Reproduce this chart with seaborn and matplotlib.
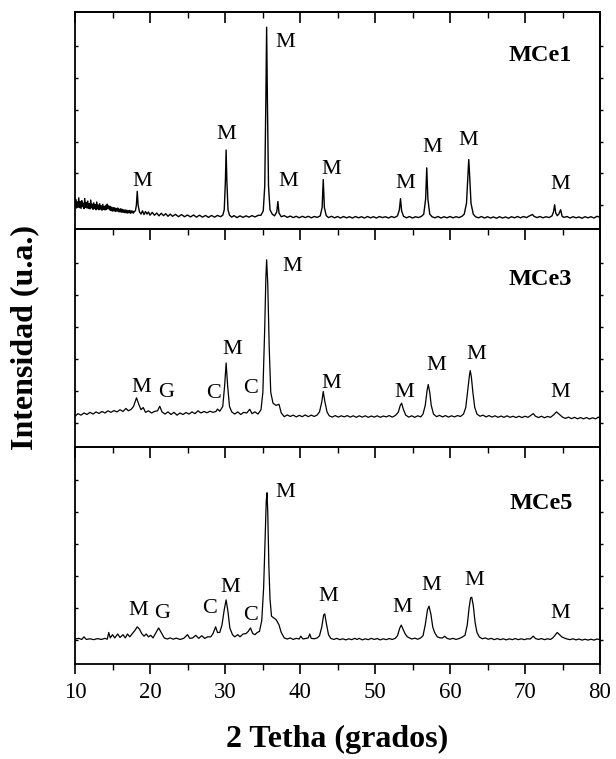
import matplotlib
matplotlib.use("Agg")
import matplotlib.pyplot as plt
from matplotlib.ticker import MultipleLocator, NullFormatter
import seaborn as sns

sns.set_theme(style="white")
plt.rcParams["font.family"] = ["Liberation Serif", "DejaVu Serif"]
plt.rcParams["text.color"] = "black"
plt.rcParams["axes.labelcolor"] = "black"
plt.rcParams["xtick.color"] = "black"
plt.rcParams["ytick.color"] = "black"

# ---------------------------------------------------------------- data
# Diffractograms as (2-theta in degrees, relative intensity in % of panel height)
mce1 = [
    (10.0, 11.5), (10.1, 13.8), (10.2, 9.8), (10.3, 12.6), (10.4, 10.2), (10.5, 14.5),
    (10.6, 10.0), (10.7, 12.8), (10.8, 9.6), (10.9, 13.2), (11.0, 10.4), (11.1, 12.0),
    (11.2, 9.5), (11.3, 14.2), (11.4, 10.1), (11.5, 12.4), (11.6, 9.8), (11.7, 13.0),
    (11.8, 9.6), (11.9, 11.8), (12.0, 9.4), (12.1, 13.5), (12.2, 9.9), (12.3, 11.6),
    (12.4, 9.2), (12.5, 12.2), (12.6, 9.6), (12.7, 11.4), (12.8, 9.0), (12.9, 12.6),
    (13.0, 9.4), (13.1, 11.2), (13.2, 9.0), (13.3, 11.8), (13.4, 9.3), (13.5, 10.8),
    (13.6, 8.8), (13.7, 11.5), (13.8, 9.2), (13.9, 10.6), (14.0, 8.9), (14.1, 11.0),
    (14.2, 9.1), (14.3, 11.6), (14.4, 9.6), (14.5, 10.8), (14.6, 9.0), (14.7, 10.5),
    (14.8, 8.6), (14.9, 10.2), (15.0, 8.4), (15.1, 10.0), (15.2, 8.5), (15.3, 9.9),
    (15.4, 8.2), (15.5, 9.6), (15.6, 8.4), (15.7, 9.8), (15.8, 8.1), (15.9, 9.3),
    (16.0, 8.0), (16.1, 9.5), (16.2, 7.9), (16.3, 9.2), (16.4, 7.8), (16.5, 9.0),
    (16.6, 7.7), (16.7, 8.9), (16.8, 7.6), (16.9, 8.8), (17.0, 7.5), (17.1, 8.6),
    (17.2, 7.6), (17.3, 8.7), (17.4, 7.4), (17.5, 8.5), (17.6, 7.6), (17.7, 8.4),
    (17.8, 7.5), (17.9, 8.2), (18.05, 8.5), (18.18, 11.0), (18.3, 17.5), (18.42, 11.0),
    (18.6, 8.0), (18.8, 7.0), (19.0, 8.5), (19.2, 6.8), (19.4, 8.2), (19.6, 7.0),
    (19.8, 8.0), (20.0, 6.5), (20.3, 7.8), (20.6, 6.5), (20.9, 7.5), (21.2, 6.2),
    (21.5, 7.4), (21.8, 6.3), (22.1, 7.2), (22.4, 6.0), (22.7, 7.0), (23.0, 6.0),
    (23.4, 6.9), (23.8, 5.8), (24.2, 6.8), (24.6, 5.8), (25.0, 6.6), (25.4, 5.7),
    (25.8, 6.6), (26.2, 5.6), (26.6, 6.5), (27.0, 5.6), (27.4, 6.4), (27.8, 5.5),
    (28.2, 6.4), (28.6, 5.6), (29.0, 6.4), (29.4, 5.8), (29.7, 6.5), (29.9, 9.0),
    (30.05, 22.0), (30.15, 36.5), (30.25, 22.0), (30.4, 9.0), (30.6, 6.5), (30.9, 5.6),
    (31.2, 6.3), (31.6, 5.4), (32.0, 6.2), (32.4, 5.5), (32.8, 6.2), (33.2, 5.6),
    (33.6, 6.3), (34.0, 5.7), (34.4, 6.4), (34.8, 6.5), (35.1, 8.5), (35.3, 20.0),
    (35.45, 60.0), (35.55, 93.0), (35.65, 60.0), (35.8, 20.0), (36.0, 9.0), (36.3, 7.0),
    (36.6, 6.2), (36.9, 8.0), (37.05, 12.8), (37.2, 7.5), (37.5, 5.8), (37.9, 6.3),
    (38.3, 5.5), (38.7, 6.1), (39.1, 5.4), (39.5, 6.0), (39.9, 5.3), (40.3, 6.0),
    (40.7, 5.4), (41.1, 6.0), (41.5, 5.3), (41.9, 5.9), (42.3, 5.5), (42.7, 6.2),
    (42.95, 10.0), (43.1, 22.9), (43.25, 10.0), (43.5, 6.3), (43.8, 5.4), (44.2, 6.0),
    (44.6, 5.3), (45.0, 5.9), (45.4, 5.2), (45.8, 5.9), (46.2, 5.3), (46.6, 5.8),
    (47.0, 5.2), (47.4, 5.9), (47.8, 5.3), (48.2, 5.8), (48.6, 5.2), (49.0, 5.9),
    (49.4, 5.3), (49.8, 5.8), (50.2, 5.2), (50.6, 5.9), (51.0, 5.4), (51.4, 5.8),
    (51.8, 5.2), (52.2, 5.9), (52.6, 5.4), (53.0, 6.2), (53.25, 9.0), (53.4, 14.1),
    (53.55, 8.5), (53.8, 6.0), (54.2, 5.3), (54.6, 5.9), (55.0, 5.2), (55.4, 5.8),
    (55.8, 5.4), (56.2, 6.0), (56.5, 7.0), (56.75, 14.0), (56.9, 28.3), (57.05, 14.0),
    (57.3, 7.0), (57.6, 5.8), (58.0, 5.3), (58.4, 5.9), (58.8, 5.2), (59.2, 5.8),
    (59.6, 5.3), (60.0, 5.9), (60.4, 5.3), (60.8, 5.8), (61.2, 5.4), (61.6, 6.0),
    (61.9, 7.0), (62.2, 12.0), (62.4, 26.0), (62.5, 32.1), (62.6, 26.0), (62.8, 12.0),
    (63.1, 7.0), (63.4, 5.8), (63.8, 5.3), (64.2, 5.9), (64.6, 5.2), (65.0, 5.8),
    (65.4, 5.2), (65.8, 5.7), (66.2, 5.1), (66.6, 5.8), (67.0, 5.2), (67.4, 5.7),
    (67.8, 5.1), (68.2, 5.8), (68.6, 5.3), (69.0, 5.9), (69.4, 5.3), (69.8, 5.9),
    (70.2, 5.4), (70.6, 6.2), (71.0, 6.8), (71.2, 6.0), (71.6, 5.4), (72.0, 5.9),
    (72.4, 5.3), (72.8, 5.8), (73.2, 5.4), (73.6, 6.2), (73.8, 8.0), (73.95, 11.3),
    (74.1, 7.5), (74.3, 6.3), (74.5, 7.0), (74.75, 9.0), (74.95, 6.0), (75.2, 5.5),
    (75.6, 5.9), (76.0, 5.2), (76.4, 5.8), (76.8, 5.3), (77.2, 5.7), (77.6, 5.1),
    (78.0, 5.8), (78.4, 5.3), (78.8, 5.8), (79.2, 5.2), (79.6, 6.0), (80.0, 5.5),
]

mce3 = [
    (10.0, 14.0), (10.4, 15.2), (10.8, 14.5), (11.2, 15.5), (11.6, 14.8), (12.0, 15.8),
    (12.4, 15.0), (12.8, 16.0), (13.2, 15.3), (13.6, 16.2), (14.0, 15.5), (14.4, 16.5),
    (14.8, 15.8), (15.2, 16.6), (15.6, 16.0), (16.0, 17.0), (16.4, 16.2), (16.8, 17.6),
    (17.1, 16.5), (17.5, 17.2), (17.8, 18.5), (18.2, 22.5), (18.5, 19.5), (18.8, 17.0),
    (19.1, 18.0), (19.4, 15.8), (19.8, 16.5), (20.2, 15.5), (20.6, 16.2), (21.0, 16.5),
    (21.3, 18.6), (21.6, 16.0), (22.0, 15.0), (22.4, 16.0), (22.8, 14.8), (23.2, 15.8),
    (23.6, 14.5), (24.0, 15.5), (24.4, 14.8), (24.8, 15.7), (25.2, 15.0), (25.6, 16.0),
    (26.0, 15.2), (26.4, 16.5), (26.8, 15.5), (27.2, 16.2), (27.6, 15.6), (28.0, 16.3),
    (28.4, 15.8), (28.8, 16.2), (29.0, 17.3), (29.3, 16.3), (29.7, 18.5), (29.95, 28.0),
    (30.15, 38.5), (30.35, 28.0), (30.6, 18.5), (30.9, 16.0), (31.3, 15.0), (31.7, 16.0),
    (32.1, 14.8), (32.5, 15.8), (32.9, 15.5), (33.3, 17.2), (33.6, 15.2), (34.0, 16.0),
    (34.4, 15.0), (34.8, 17.0), (35.05, 25.0), (35.3, 55.0), (35.45, 78.0), (35.55, 86.0),
    (35.7, 75.0), (35.9, 45.0), (36.1, 25.0), (36.4, 20.0), (36.8, 19.0), (37.2, 19.5),
    (37.5, 15.5), (37.9, 13.8), (38.3, 14.6), (38.7, 13.9), (39.1, 14.5), (39.5, 13.7),
    (39.9, 14.4), (40.3, 13.8), (40.7, 14.6), (41.1, 13.8), (41.5, 14.5), (41.9, 13.9),
    (42.3, 14.6), (42.6, 16.0), (42.9, 20.5), (43.1, 25.4), (43.3, 21.0), (43.6, 16.0),
    (43.9, 14.2), (44.3, 13.6), (44.7, 14.3), (45.1, 13.6), (45.5, 14.2), (45.9, 13.7),
    (46.3, 14.3), (46.7, 13.6), (47.1, 14.2), (47.5, 13.5), (47.9, 14.2), (48.3, 13.6),
    (48.7, 14.2), (49.1, 13.5), (49.5, 14.1), (49.9, 13.6), (50.3, 14.2), (50.7, 13.5),
    (51.1, 14.1), (51.5, 13.7), (51.9, 14.3), (52.3, 13.6), (52.7, 14.3), (53.1, 15.8),
    (53.35, 18.8), (53.55, 20.0), (53.8, 17.0), (54.1, 14.5), (54.5, 13.6), (54.9, 14.2),
    (55.3, 13.5), (55.7, 14.2), (56.1, 13.7), (56.4, 15.0), (56.7, 19.0), (56.95, 26.0),
    (57.1, 28.6), (57.3, 25.0), (57.5, 19.0), (57.8, 15.0), (58.2, 13.8), (58.6, 14.4),
    (59.0, 13.7), (59.4, 14.3), (59.8, 13.6), (60.2, 14.2), (60.6, 13.7), (61.0, 14.3),
    (61.4, 13.9), (61.8, 15.0), (62.1, 18.0), (62.4, 27.0), (62.6, 33.0), (62.7, 35.0),
    (62.85, 32.0), (63.05, 25.0), (63.3, 18.0), (63.6, 15.0), (64.0, 14.0), (64.4, 14.5),
    (64.8, 13.7), (65.2, 14.3), (65.6, 13.6), (66.0, 14.2), (66.4, 13.5), (66.8, 14.1),
    (67.2, 13.5), (67.6, 14.2), (68.0, 13.5), (68.4, 14.0), (68.8, 13.4), (69.2, 14.0),
    (69.6, 13.4), (70.0, 14.0), (70.4, 13.5), (70.8, 14.5), (71.1, 15.2), (71.4, 14.0),
    (71.8, 13.4), (72.2, 14.0), (72.6, 13.3), (73.0, 13.9), (73.4, 13.5), (73.8, 14.6),
    (74.2, 16.0), (74.6, 14.8), (75.0, 13.6), (75.4, 13.0), (75.8, 13.6), (76.2, 12.9),
    (76.6, 13.5), (77.0, 12.8), (77.4, 13.4), (77.8, 12.8), (78.2, 13.4), (78.6, 12.7),
    (79.0, 13.3), (79.4, 12.8), (79.8, 13.6), (80.0, 13.0),
]

mce5 = [
    (10.0, 11.5), (10.5, 11.8), (10.9, 11.3), (11.2, 12.5), (11.5, 11.3), (12.0, 11.6),
    (12.5, 11.2), (13.0, 11.7), (13.5, 11.3), (14.0, 11.8), (14.3, 11.4), (14.5, 14.5),
    (14.7, 12.0), (15.0, 13.5), (15.3, 12.0), (15.7, 13.8), (16.0, 12.2), (16.4, 13.5),
    (16.7, 12.0), (17.0, 13.8), (17.3, 12.5), (17.7, 14.2), (18.0, 15.5), (18.3, 17.1),
    (18.6, 16.0), (18.9, 14.0), (19.2, 12.8), (19.5, 13.8), (19.8, 12.5), (20.1, 13.2),
    (20.4, 12.0), (20.8, 14.5), (21.15, 16.6), (21.5, 14.5), (21.9, 12.0), (22.3, 11.5),
    (22.7, 12.0), (23.1, 11.4), (23.5, 11.9), (24.0, 11.3), (24.5, 11.8), (25.0, 13.5),
    (25.3, 11.8), (25.7, 12.0), (26.1, 13.2), (26.5, 11.8), (26.9, 13.0), (27.3, 11.8),
    (27.7, 12.5), (28.1, 12.5), (28.4, 14.0), (28.75, 17.1), (29.0, 14.5), (29.3, 14.5),
    (29.6, 18.0), (29.9, 25.0), (30.15, 29.5), (30.4, 24.0), (30.65, 16.5), (31.0, 13.5),
    (31.3, 12.5), (31.7, 13.5), (32.0, 12.5), (32.4, 13.8), (32.8, 14.0), (33.1, 15.0),
    (33.4, 16.6), (33.7, 14.0), (34.0, 13.5), (34.3, 14.5), (34.6, 15.0), (34.9, 20.0),
    (35.15, 35.0), (35.35, 58.0), (35.5, 75.0), (35.6, 78.8), (35.7, 70.0), (35.85, 45.0),
    (36.0, 30.0), (36.2, 22.0), (36.5, 21.2), (36.8, 20.5), (37.2, 18.0), (37.5, 14.5),
    (37.9, 12.0), (38.3, 11.5), (38.7, 12.0), (39.1, 11.3), (39.5, 11.8), (39.9, 11.5),
    (40.1, 12.8), (40.4, 11.5), (40.8, 11.8), (41.1, 12.0), (41.3, 13.8), (41.5, 11.8),
    (41.9, 11.6), (42.3, 12.0), (42.6, 13.0), (42.9, 17.0), (43.15, 22.5), (43.3, 23.1),
    (43.5, 19.0), (43.8, 13.5), (44.1, 11.8), (44.5, 11.3), (44.9, 11.8), (45.3, 11.2),
    (45.7, 11.6), (46.1, 11.1), (46.5, 11.6), (46.9, 11.2), (47.3, 11.8), (47.6, 11.3),
    (47.9, 11.8), (48.3, 11.1), (48.7, 11.6), (49.1, 11.2), (49.5, 11.8), (49.9, 11.3),
    (50.3, 11.7), (50.7, 11.1), (51.1, 11.6), (51.5, 11.2), (51.9, 11.7), (52.3, 11.3),
    (52.7, 11.8), (53.0, 13.0), (53.3, 16.5), (53.5, 17.9), (53.75, 16.0), (54.0, 14.0),
    (54.3, 12.5), (54.6, 12.0), (54.9, 11.5), (55.3, 11.9), (55.7, 11.4), (56.1, 12.0),
    (56.4, 13.0), (56.7, 18.0), (57.0, 25.0), (57.2, 26.6), (57.45, 23.0), (57.7, 17.0),
    (57.95, 14.5), (58.3, 12.5), (58.7, 12.0), (59.0, 12.0), (59.3, 12.8), (59.6, 11.8),
    (60.0, 11.4), (60.4, 11.8), (60.8, 11.3), (61.2, 11.7), (61.6, 12.3), (62.0, 13.2),
    (62.3, 18.0), (62.55, 26.0), (62.75, 30.5), (62.9, 30.7), (63.1, 27.0), (63.35, 19.0),
    (63.6, 14.5), (63.9, 12.5), (64.3, 11.6), (64.7, 12.0), (65.1, 11.4), (65.5, 11.8),
    (65.9, 11.2), (66.3, 11.7), (66.7, 11.2), (67.1, 11.6), (67.5, 11.1), (67.9, 11.6),
    (68.3, 11.2), (68.7, 11.7), (69.1, 11.2), (69.5, 11.6), (69.9, 11.2), (70.3, 11.6),
    (70.7, 11.5), (71.1, 12.8), (71.4, 11.7), (71.8, 11.3), (72.2, 11.7), (72.6, 11.2),
    (73.0, 11.6), (73.4, 11.3), (73.7, 12.0), (74.0, 13.2), (74.3, 14.5), (74.6, 13.5),
    (74.9, 12.5), (75.2, 12.0), (75.6, 11.5), (76.0, 11.2), (76.4, 11.6), (76.8, 11.1),
    (77.2, 11.5), (77.6, 11.0), (78.0, 11.4), (78.4, 11.0), (78.8, 11.4), (79.2, 11.0),
    (79.6, 11.5), (80.0, 11.2),
]

# Phase labels: (letter, 2-theta, height)
mce1_labels = [("M", 19.0, 22.0), ("M", 30.2, 43.7), ("M", 38.1, 86.0), ("M", 38.4, 22.0),
               ("M", 44.1, 27.5), ("M", 54.1, 21.3), ("M", 57.6, 37.6), ("M", 62.4, 41.0),
               ("M", 74.7, 20.6)]
mce3_labels = [("M", 18.9, 27.4), ("G", 22.1, 25.1), ("C", 28.5, 24.4), ("M", 31.0, 44.9),
               ("C", 33.45, 26.6), ("M", 39.0, 83.0), ("M", 44.1, 28.9), ("M", 53.9, 25.1),
               ("M", 58.2, 37.3), ("M", 63.5, 42.6), ("M", 74.7, 25.1)]
mce5_labels = [("M", 18.4, 24.7), ("G", 21.6, 23.1), ("C", 27.9, 25.4), ("M", 30.7, 35.2),
               ("C", 33.35, 22.4), ("M", 38.1, 79.0), ("M", 43.8, 31.0), ("M", 53.6, 26.2),
               ("M", 57.5, 36.0), ("M", 63.2, 38.6), ("M", 74.75, 23.1)]

samples = ["MCe1", "MCe3", "MCe5"]
sample_pos = [(72.0, 80.0), (72.0, 77.0), (72.2, 73.8)]
x_ticks = [10, 20, 30, 40, 50, 60, 70, 80]
y_ticks = [11.0, 25.7, 40.4, 55.1, 69.8, 84.5]

# ---------------------------------------------------------------- figure
fig = plt.figure(figsize=(6.16, 7.59), dpi=100)
left, right = 75 / 616, 600 / 616
top, bottom = 1 - 12 / 759, 1 - 664 / 759
panel_h = (top - bottom) / 3

series = [(mce1, mce1_labels, 1.0), (mce3, mce3_labels, 0.9), (mce5, mce5_labels, 0.9)]

axes = []
for i, (pattern, labels, lw) in enumerate(series):
    two_theta = [p[0] for p in pattern]
    intensity = [p[1] for p in pattern]
    ax = fig.add_axes([left, top - (i + 1) * panel_h, right - left, panel_h])
    axes.append(ax)
    sns.lineplot(x=two_theta, y=intensity, ax=ax, color="black", linewidth=lw,
                 estimator=None, sort=False)
    ax.set_xlim(10, 80)
    ax.set_ylim(0, 100)
    ax.set_xlabel("")
    ax.set_ylabel("")
    for s in ax.spines.values():
        s.set_linewidth(1.3)
        s.set_color("black")

    for letter, lx, ly in labels:
        ax.text(lx, ly, letter, ha="center", va="center", fontsize=16)
    sx, sy = sample_pos[i]
    ax.text(sx, sy, samples[i], ha="center", va="center", fontsize=17.5,
            fontweight="bold")

    # y ticks: inward on the left, outward on the right, no labels
    ax.set_yticks(y_ticks)
    ax.yaxis.set_major_formatter(NullFormatter())
    ax.tick_params(axis="y", left=True, right=False, direction="in",
                   length=2.5, width=1.0)
    sec_y = ax.secondary_yaxis("right")
    sec_y.set_yticks(y_ticks)
    sec_y.yaxis.set_major_formatter(NullFormatter())
    sec_y.tick_params(direction="out", length=2.0, width=1.0)
    sec_y.spines["right"].set_linewidth(1.3)

    # x ticks along the top edge point into the panel
    sec_x = ax.secondary_xaxis("top")
    sec_x.set_xticks(x_ticks)
    sec_x.xaxis.set_minor_locator(MultipleLocator(5))
    sec_x.xaxis.set_major_formatter(NullFormatter())
    sec_x.tick_params(which="major", direction="in", length=8, width=1.2)
    sec_x.tick_params(which="minor", direction="in", length=4.5, width=1.0)
    sec_x.spines["top"].set_linewidth(1.3)

    ax.set_xticks(x_ticks)
    ax.xaxis.set_minor_locator(MultipleLocator(5))
    if i < 2:
        ax.tick_params(axis="x", which="both", bottom=False, top=False,
                       labelbottom=False)
    else:
        ax.tick_params(axis="x", which="major", bottom=True, top=False,
                       direction="out", length=7, width=1.2, labelsize=16.5, pad=6)
        ax.tick_params(axis="x", which="minor", bottom=True, top=False,
                       direction="out", length=4.3, width=1.0)

axes[2].set_xlabel("2 Tetha (grados)", fontsize=23, fontweight="bold", labelpad=16)
fig.text(25 / 616, 1 - 338 / 759, "Intensidad (u.a.)", rotation=90,
         ha="center", va="center", fontsize=23, fontweight="bold")

fig.savefig("out.png", dpi=100, facecolor="white")
